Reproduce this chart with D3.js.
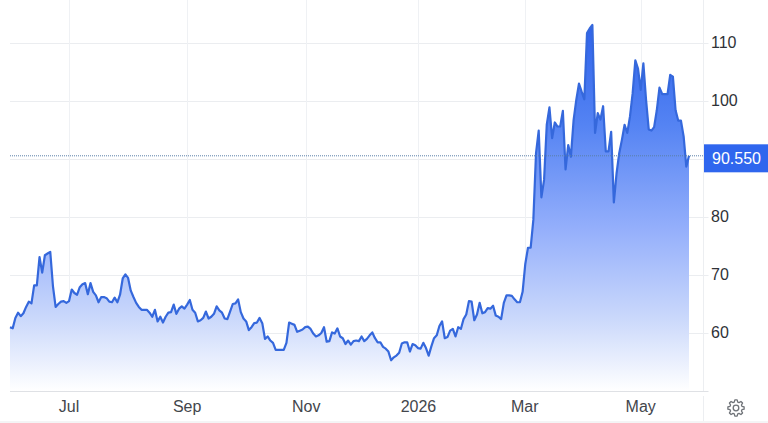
<!DOCTYPE html>
<html>
<head>
<meta charset="utf-8">
<script src="https://cdn.jsdelivr.net/npm/d3@7"></script>
<style>
html,body{margin:0;padding:0;background:#fff;overflow:hidden}
svg{display:block}
text{font-family:"Liberation Sans",Arial,sans-serif}
</style>
</head>
<body>
<svg id="chart" width="768" height="423"></svg>
<script>
// Daily closing prices, oldest first
const prices = [
61.0,60.8,62.6,63.5,62.9,63.4,64.5,65.4,65.1,68.2,68.2,73.1,70.4,73.4,73.7,74.0,68.1,64.5,65.0,65.4,
65.5,65.2,65.5,67.5,66.9,66.6,67.9,68.4,68.6,66.7,68.6,67.1,66.5,65.3,66.2,66.2,66.0,65.4,65.3,66.1,
65.3,66.6,69.4,70.1,69.5,67.3,66.2,65.2,64.5,64.0,64.0,64.0,63.5,62.8,64.0,62.0,62.8,61.8,62.8,63.5,
63.6,64.9,63.3,64.2,64.6,64.2,64.9,65.7,64.0,63.5,62.0,62.2,62.6,63.7,62.5,62.8,63.3,64.6,63.9,63.5,
62.5,62.4,63.7,65.0,65.1,65.8,63.6,62.5,62.0,60.5,61.0,61.7,61.8,62.6,
61.7,59.0,59.4,58.7,58.3,57.1,57.1,57.1,57.1,58.3,61.8,61.6,61.4,60.2,60.4,60.6,61.0,61.1,60.7,59.9,
59.4,59.6,60.0,61.0,58.5,58.6,60.1,59.9,60.8,59.4,59.1,58.1,58.7,58.0,58.6,58.7,58.6,59.4,58.6,59.0,
59.6,60.1,59.1,58.4,58.4,57.6,57.3,56.8,55.3,55.8,56.1,56.6,58.2,58.4,58.4,56.8,58.1,57.9,57.4,57.3,
58.3,57.4,56.1,57.7,59.1,59.6,61.2,62.0,59.1,59.3,60.4,60.7,59.4,61.0,60.7,62.4,63.2,65.5,65.4,62.2,
63.2,65.2,63.4,63.6,64.3,64.2,64.7,63.0,62.8,62.4,65.2,66.5,66.5,
66.4,65.8,65.3,65.3,67.1,71.9,74.7,74.7,79.5,
91.0,94.9,83.4,86.4,95.9,98.9,93.6,96.3,95.6,95.6,98.3,88.2,92.4,90.4,96.7,100.2,103.0,101.6,100.3,111.7,
112.5,113.1,94.5,97.9,96.8,99.1,91.3,91.3,94.7,82.5,87.5,91.0,93.3,95.9,94.5,97.3,101.3,107.0,105.6,101.9,
106.5,100.2,95.1,94.9,95.5,98.4,102.3,101.2,101.2,101.2,104.5,104.2,98.4,96.6,96.6,93.9,88.7,90.55
];
const lastPrice = 90.55;

// Month markers, each placed at the session where that month opens
const monthLabels = ["Jul","Sep","Nov","2026","Mar","May"];
const monthSessions = [22.0,66.0,110.4,152.2,191.8,235.0];

const priceTicks = [60,70,80,90,100,110];
const priceLabels = [60,70,80,100,110];

const plot = {left:10, right:689, axisX:703.5, top:0, bottom:391};

const svg = d3.select("#chart");

const x = d3.scaleLinear().domain([0, prices.length-1]).range([plot.left, plot.right]);
const y = d3.scaleLinear().domain([60,110]).range([333,43]);

const defs = svg.append("defs");
const grad = defs.append("linearGradient")
  .attr("id","areaFill").attr("gradientUnits","userSpaceOnUse")
  .attr("x1",0).attr("x2",0).attr("y1",y(113)).attr("y2",plot.bottom);
grad.append("stop").attr("offset",0).attr("stop-color","#2f63ea");
grad.append("stop").attr("offset",0.27).attr("stop-color","#5483f3");
grad.append("stop").attr("offset",0.55).attr("stop-color","#93aefb");
grad.append("stop").attr("offset",0.8).attr("stop-color","#cad8fb");
grad.append("stop").attr("offset",1).attr("stop-color","#ffffff");

// Outer page strip along the bottom edge
svg.append("rect").attr("x",0).attr("y",421).attr("width",768).attr("height",2).attr("fill","#f4f4f5");

// Horizontal gridlines
svg.append("g").selectAll("line").data(priceTicks).join("line")
  .attr("x1",plot.left).attr("x2",plot.axisX+5)
  .attr("y1",d=>Math.round(y(d))+0.5).attr("y2",d=>Math.round(y(d))+0.5)
  .attr("stroke","#ebedf0").attr("stroke-width",1);

// Vertical gridlines at month openings
svg.append("g").selectAll("line").data(monthSessions).join("line")
  .attr("x1",d=>Math.round(x(d))+0.5).attr("x2",d=>Math.round(x(d))+0.5)
  .attr("y1",plot.top).attr("y2",plot.bottom)
  .attr("stroke","#eff1f4").attr("stroke-width",1);

// Price area and line
const area = d3.area().x((d,i)=>x(i)).y0(plot.bottom).y1(d=>y(d));
const line = d3.line().x((d,i)=>x(i)).y(d=>y(d));
svg.append("path").datum(prices).attr("d",area).attr("fill","url(#areaFill)");
svg.append("path").datum(prices).attr("d",line)
  .attr("fill","none").attr("stroke","#3568dc").attr("stroke-width",2.2).attr("stroke-linejoin","round");

// Frame of the plot
svg.append("line").attr("x1",plot.left).attr("x2",plot.axisX+5).attr("y1",plot.bottom+0.5).attr("y2",plot.bottom+0.5)
  .attr("stroke","#dfe1e5");
svg.append("line").attr("x1",plot.axisX).attr("x2",plot.axisX).attr("y1",0).attr("y2",plot.bottom)
  .attr("stroke","#eceef1");
svg.append("line").attr("x1",plot.axisX).attr("x2",plot.axisX).attr("y1",396).attr("y2",421)
  .attr("stroke","#eceef1");

// Last-price marker
svg.append("line").attr("x1",plot.left).attr("x2",plot.axisX)
  .attr("y1",y(lastPrice)).attr("y2",y(lastPrice))
  .attr("stroke","#5b7fa8").attr("stroke-width",1).attr("stroke-dasharray","1 1");
svg.append("rect").attr("x",704).attr("y",y(lastPrice)-11.5).attr("width",64).attr("height",28)
  .attr("fill","#2f66ee");
svg.append("text").attr("x",712).attr("y",y(lastPrice)+8).attr("fill","#fff")
  .attr("font-size",16).text(d3.format(".3f")(lastPrice));

// Price axis labels
svg.append("g").selectAll("text").data(priceLabels).join("text")
  .attr("x",711).attr("y",d=>y(d)+4.5)
  .attr("font-size",16).attr("fill","#2f3237").text(d=>d);

// Month labels
svg.append("g").selectAll("text").data(monthLabels).join("text")
  .attr("x",(d,i)=>x(monthSessions[i])).attr("y",412)
  .attr("text-anchor","middle").attr("font-size",16).attr("fill","#43464c").text(d=>d);

// Settings gear
const gear = d3.path();
const teeth = 8, cx = 736, cy = 408, rOut = 8.2, rIn = 6.2;
for (let i=0;i<teeth;i++){
  const a = i/teeth*2*Math.PI - Math.PI/2, w = Math.PI/teeth;
  const pts = [[rIn,a-w*0.72],[rOut,a-w*0.36],[rOut,a+w*0.36],[rIn,a+w*0.72]];
  pts.forEach(([r,t],j)=>{
    const px = cx+r*Math.cos(t), py = cy+r*Math.sin(t);
    if(i===0&&j===0) gear.moveTo(px,py); else gear.lineTo(px,py);
  });
}
gear.closePath();
svg.append("path").attr("d",gear.toString()).attr("fill","none").attr("stroke","#6f7378").attr("stroke-width",1.3).attr("stroke-linejoin","round");
svg.append("circle").attr("cx",cx).attr("cy",cy).attr("r",2.8).attr("fill","none").attr("stroke","#6f7378").attr("stroke-width",1.3);
</script>
</body>
</html>
